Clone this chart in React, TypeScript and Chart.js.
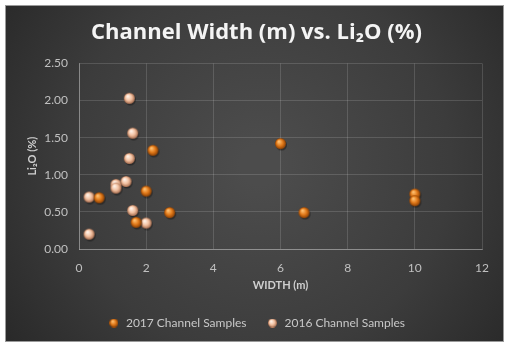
import React, { useEffect, useRef } from "react";
import { Chart, registerables } from "chart.js";

Chart.register(...registerables);

const TITLE = "Channel Width (m) vs. Li₂O (%)";
const X_TITLE = "WIDTH (m)";
const Y_TITLE = "Li₂O (%)";
const SERIES_2017 = "2017 Channel Samples";
const SERIES_2016 = "2016 Channel Samples";

const width2017 = [0.6, 1.7, 2.0, 2.2, 2.7, 6.0, 6.7, 10, 10];
const li2017 = [0.69, 0.36, 0.78, 1.33, 0.49, 1.42, 0.49, 0.74, 0.65];

const width2016 = [0.3, 0.3, 1.1, 1.1, 1.4, 1.5, 1.5, 1.6, 1.6, 2.0];
const li2016 = [0.7, 0.2, 0.87, 0.82, 0.91, 1.22, 2.03, 1.56, 0.52, 0.35];

function sphere(size: number, light: string, mid: string, dark: string, shadow: boolean) {
  const c = document.createElement("canvas");
  const pad = shadow ? 2 : 0;
  c.width = size + pad * 2;
  c.height = size + pad * 2;
  const ctx = c.getContext("2d")!;
  const r = size / 2;
  const cx = r + pad;
  const cy = r + pad;
  if (shadow) {
    ctx.fillStyle = "rgba(0,0,0,0.35)";
    ctx.beginPath();
    ctx.arc(cx + 1, cy + 1.5, r, 0, Math.PI * 2);
    ctx.fill();
  }
  const g = ctx.createRadialGradient(cx - r * 0.3, cy - r * 0.4, r * 0.1, cx, cy, r);
  g.addColorStop(0, light);
  g.addColorStop(0.55, mid);
  g.addColorStop(1, dark);
  ctx.fillStyle = g;
  ctx.beginPath();
  ctx.arc(cx, cy, r, 0, Math.PI * 2);
  ctx.fill();
  return c;
}

const bgPlugin = {
  id: "bgPlugin",
  beforeDraw(chart: any) {
    const ctx = chart.ctx;
    const w = chart.width;
    const h = chart.height;
    ctx.save();
    ctx.fillStyle = "#ffffff";
    ctx.fillRect(0, 0, w, h);
    const x0 = 6, y0 = 6, x1 = 503, y1 = 341;
    const g = ctx.createRadialGradient(260, 165, 20, 260, 165, 330);
    g.addColorStop(0, "#4c4c4c");
    g.addColorStop(0.55, "#3c3c3c");
    g.addColorStop(1, "#262626");
    ctx.fillStyle = g;
    ctx.fillRect(x0, y0, x1 - x0, y1 - y0);
    ctx.strokeStyle = "#9a9a9a";
    ctx.lineWidth = 1;
    ctx.strokeRect(x0 - 0.5, y0 - 0.5, x1 - x0 + 1, y1 - y0 + 1);
    ctx.restore();
  },
};

export default function App() {
  const ref = useRef<HTMLCanvasElement | null>(null);
  useEffect(() => {
    if (!ref.current) return;
    const orange = sphere(11, "#ffc070", "#e07818", "#8a4005", true);
    const peach = sphere(11, "#fff2e8", "#f2c0a0", "#a86e50", true);
    const orangeL = sphere(9, "#ffc070", "#e07818", "#8a4005", false);
    const peachL = sphere(9, "#fff2e8", "#f2c0a0", "#a86e50", false);
    const font = "Lato, 'DejaVu Sans', sans-serif";
    const chart = new Chart(ref.current, {
      type: "scatter",
      data: {
        datasets: [
          {
            label: SERIES_2017,
            data: width2017.map((x, i) => ({ x, y: li2017[i] })),
            pointStyle: orange as any,
            backgroundColor: "#e07818",
            borderColor: "#e07818",
          },
          {
            label: SERIES_2016,
            data: width2016.map((x, i) => ({ x, y: li2016[i] })),
            pointStyle: peach as any,
            backgroundColor: "#f2c0a0",
            borderColor: "#f2c0a0",
          },
        ],
      },
      options: {
        responsive: false,
        animation: false,
        layout: { padding: { left: 31, right: 29, top: 6, bottom: 12 } },
        plugins: {
          tooltip: { enabled: false },
          title: {
            display: true,
            text: TITLE,
            color: "#f4f4f4",
            font: { family: "'Open Sans', Lato, sans-serif", size: 22, weight: "bold" },
            padding: { top: 14, bottom: 17 },
          },
          legend: {
            position: "bottom",
            labels: {
              usePointStyle: true,
              color: "#c8c8c8",
              font: { family: font, size: 12 },
              padding: 20,
              generateLabels: () => [
                { text: SERIES_2017, pointStyle: orangeL as any, fillStyle: "#e07818", strokeStyle: "#e07818", lineWidth: 0, datasetIndex: 0, fontColor: "#c8c8c8" },
                { text: SERIES_2016, pointStyle: peachL as any, fillStyle: "#f2c0a0", strokeStyle: "#f2c0a0", lineWidth: 0, datasetIndex: 1, fontColor: "#c8c8c8" },
              ] as any,
            },
          },
        },
        scales: {
          x: {
            type: "linear",
            min: 0,
            max: 12,
            ticks: { stepSize: 2, color: "#c0c0c0", font: { family: font, size: 12 }, padding: 12 },
            grid: { color: "rgba(255,255,255,0.14)", drawTicks: false },
            border: { color: "rgba(255,255,255,0.3)" },
            title: {
              display: true,
              text: X_TITLE,
              color: "#cfcfcf",
              font: { family: font, size: 11, weight: "bold" },
              padding: { top: 0, bottom: 5 },
            },
            afterFit: (s: any) => {
              s.height = 48;
            },
          },
          y: {
            type: "linear",
            min: 0,
            max: 2.5,
            ticks: {
              stepSize: 0.5,
              color: "#c0c0c0",
              font: { family: font, size: 12 },
              padding: 11,
              callback: (v: any) => Number(v).toFixed(2),
            },
            grid: { color: "rgba(255,255,255,0.14)", drawTicks: false },
            border: { color: "rgba(255,255,255,0.3)" },
            title: {
              display: true,
              text: Y_TITLE,
              color: "#cfcfcf",
              font: { family: font, size: 11, weight: "bold" },
              padding: { top: -5, bottom: 0 },
            },
            afterFit: (s: any) => {
              s.width = 48;
            },
          },
        },
      },
      plugins: [bgPlugin],
    });
    return () => chart.destroy();
  }, []);
  return (
    <div style={{ position: "absolute", left: 0, top: 0, width: 511, height: 351 }}>
      <canvas ref={ref} width={511} height={351} />
    </div>
  );
}
